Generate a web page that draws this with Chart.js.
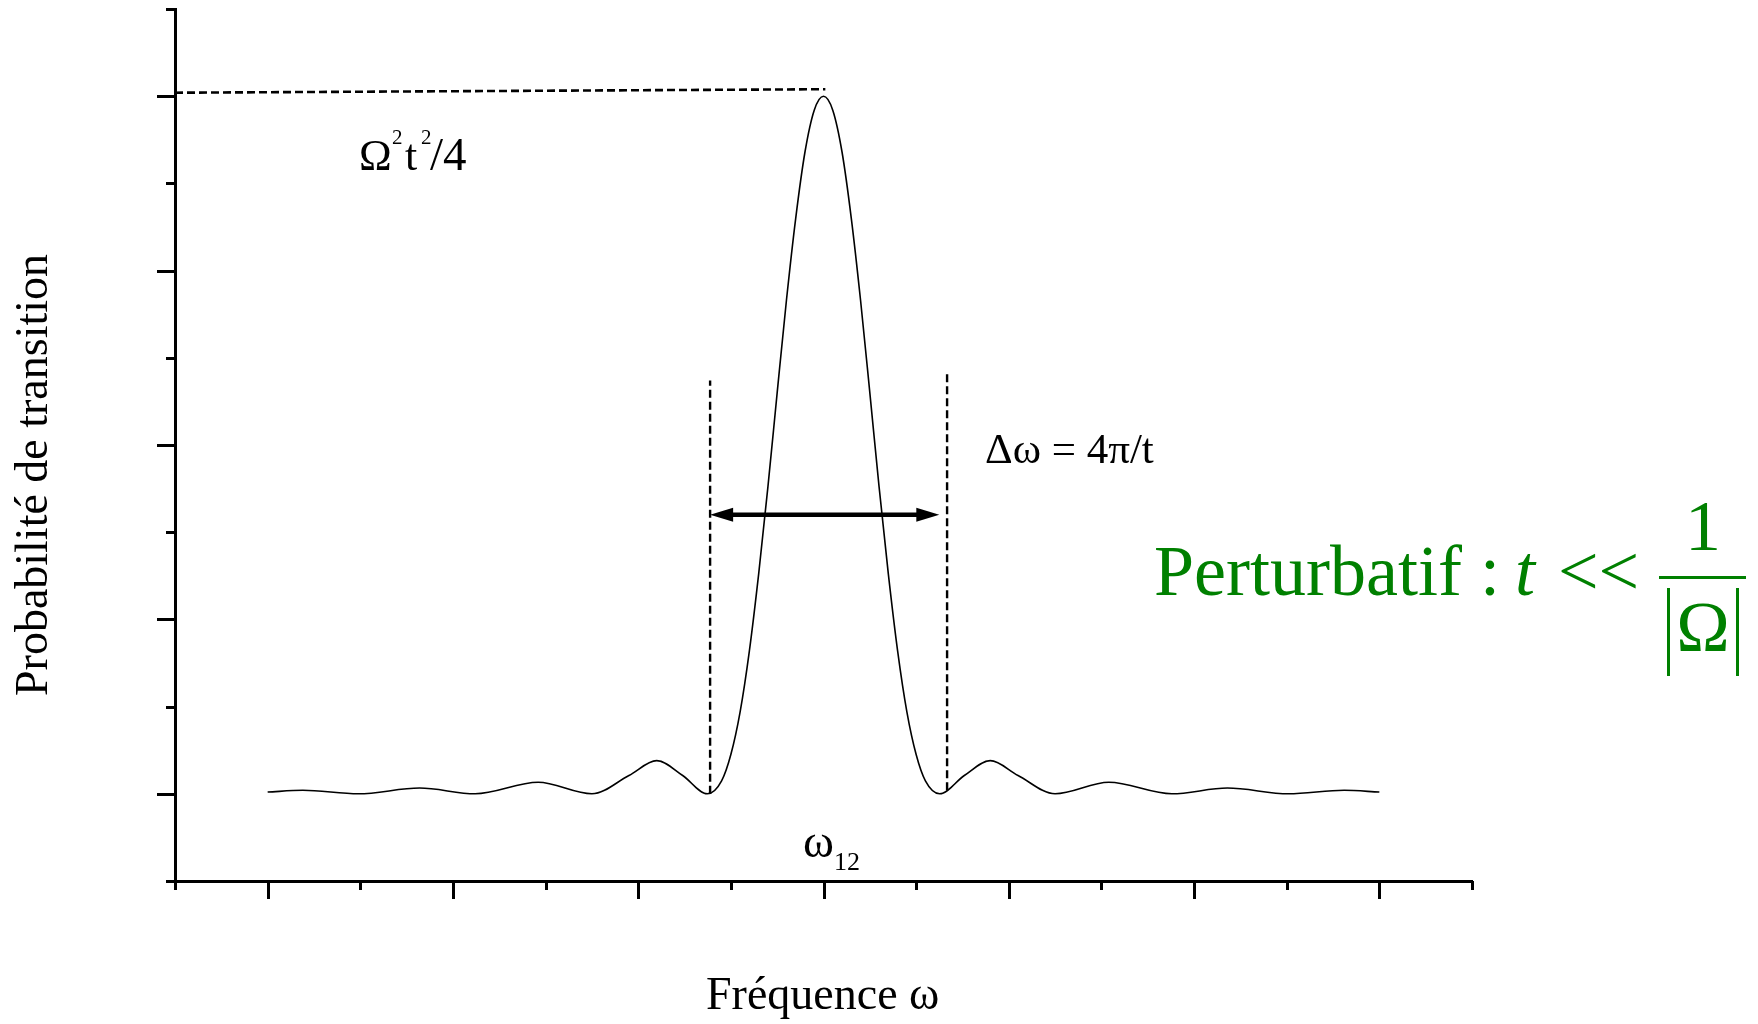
<!DOCTYPE html>
<html>
<head>
<meta charset="utf-8">
<script src="https://cdn.jsdelivr.net/npm/chart.js@4.4.1/dist/chart.umd.min.js"></script>
<style>
  html, body { margin: 0; padding: 0; background: #fff; }
  canvas { display: block; }
</style>
</head>
<body>
<canvas id="transitionChart" width="1758" height="1024"></canvas>
<script>
// Fréquence ω (écart à ω12, unités arbitraires) et probabilité de transition
const frequence = [
  -3.00, -2.81, -2.51, -2.18, -1.88, -1.54, -1.25, -1.05, -0.90, -0.76, -0.627,
  -0.55, -0.50, -0.45, -0.40, -0.35, -0.30, -0.25, -0.20, -0.15, -0.10, -0.05,
  0.00,
  0.05, 0.10, 0.15, 0.20, 0.25, 0.30, 0.35, 0.40, 0.45, 0.50, 0.55,
  0.627, 0.76, 0.90, 1.05, 1.25, 1.54, 1.88, 2.18, 2.51, 2.81, 3.00
];
const probabilite = [
  0.01, 0.02, 0.00, 0.033, 0.00, 0.066, 0.00, 0.105, 0.19, 0.105, 0.00,
  0.074, 0.225, 0.47, 0.82, 1.26, 1.76, 2.30, 2.83, 3.30, 3.68, 3.92,
  4.00,
  3.92, 3.68, 3.30, 2.83, 2.30, 1.76, 1.26, 0.82, 0.47, 0.225, 0.074,
  0.00, 0.105, 0.19, 0.105, 0.00, 0.066, 0.00, 0.033, 0.00, 0.02, 0.01
];

// niveau du maximum Ω²t²/4 (pointillés horizontaux)
const picX = [-3.5, 0.01];
const picY = [4.02, 4.04];

// largeur Δω : pointillés verticaux et flèche
const bordGaucheX = -0.612;
const bordGaucheY = [0.00, 2.37];
const bordDroitX = 0.667;
const bordDroitY = [0.02, 2.42];
const flecheX = [-0.612, 0.625];
const flecheY = 1.60;

// axes sans graduations chiffrées
const axeX = [-3.5, 3.5];
const axeY = [-0.5, 4.5];

const courbe = frequence.map((f, i) => ({ x: f, y: probabilite[i] }));

const serif = '"Liberation Serif", "Times New Roman", serif';
const vert = '#008000';

const decor = {
  id: 'decor',
  afterDraw(chart) {
    const { ctx, chartArea } = chart;
    const x = chart.scales.x, y = chart.scales.y;
    ctx.save();

    // graduations : longues aux entiers, courtes aux demis
    ctx.strokeStyle = '#000';
    ctx.lineWidth = 3;
    const estEntier = v => Math.abs(v - Math.round(v)) < 1e-6;
    x.ticks.forEach(t => {
      const px = Math.round(x.getPixelForValue(t.value)) + 0.5;
      const len = estEntier(t.value) ? 18 : 9;
      ctx.beginPath();
      ctx.moveTo(px, chartArea.bottom);
      ctx.lineTo(px, chartArea.bottom + len);
      ctx.stroke();
    });
    y.ticks.forEach(t => {
      const py = Math.round(y.getPixelForValue(t.value)) + 0.5;
      const len = estEntier(t.value) ? 18 : 9;
      ctx.beginPath();
      ctx.moveTo(chartArea.left, py);
      ctx.lineTo(chartArea.left - len, py);
      ctx.stroke();
    });

    // flèche double Δω
    const ya = y.getPixelForValue(flecheY);
    const xa = x.getPixelForValue(flecheX[0]);
    const xb = x.getPixelForValue(flecheX[1]);
    const tete = 23, demi = 7;
    ctx.fillStyle = '#000';
    ctx.lineWidth = 4.5;
    ctx.beginPath();
    ctx.moveTo(xa + tete - 2, ya);
    ctx.lineTo(xb - tete + 2, ya);
    ctx.stroke();
    ctx.beginPath();
    ctx.moveTo(xa, ya);
    ctx.lineTo(xa + tete, ya - demi);
    ctx.lineTo(xa + tete, ya + demi);
    ctx.closePath();
    ctx.fill();
    ctx.beginPath();
    ctx.moveTo(xb, ya);
    ctx.lineTo(xb - tete, ya - demi);
    ctx.lineTo(xb - tete, ya + demi);
    ctx.closePath();
    ctx.fill();

    // textes
    ctx.fillStyle = '#000';
    ctx.textAlign = 'left';
    ctx.textBaseline = 'alphabetic';

    // Ω²t²/4
    const piece = (txt, size, px, py) => {
      ctx.font = size + 'px ' + serif;
      ctx.fillText(txt, px, py);
    };
    piece('Ω', 44, 359, 170);
    piece('2', 21, 392, 144);
    piece('t', 44, 405, 170);
    piece('2', 21, 421, 144);
    piece('/4', 47, 430, 170);

    // Δω = 4π/t
    ctx.font = '43px ' + serif;
    ctx.fillText('Δω = 4π/t', 985, 463);

    // ω12
    ctx.font = '47px ' + serif;
    ctx.fillText('ω', 803, 857);
    ctx.font = '26px ' + serif;
    ctx.fillText('12', 834, 870);

    // titre de l'axe horizontal
    ctx.font = '46px ' + serif;
    ctx.fillText('Fréquence ω', 706, 1009);

    // titre de l'axe vertical
    ctx.save();
    ctx.translate(47, 475);
    ctx.rotate(-Math.PI / 2);
    ctx.textAlign = 'center';
    ctx.font = '46px ' + serif;
    ctx.fillText('Probabilité de transition', 0, 0);
    ctx.restore();

    // condition perturbative
    ctx.fillStyle = vert;
    ctx.strokeStyle = vert;
    ctx.font = '72px ' + serif;
    ctx.fillText('Perturbatif :', 1154, 595);
    ctx.font = 'italic 72px ' + serif;
    ctx.fillText('t', 1515, 595);
    ctx.font = '72px ' + serif;
    ctx.fillText('<<', 1558, 595);
    ctx.textAlign = 'center';
    ctx.fillText('1', 1703, 550);
    ctx.fillText('Ω', 1703, 651);
    ctx.lineWidth = 3;
    ctx.beginPath();
    ctx.moveTo(1659, 577.5);
    ctx.lineTo(1746, 577.5);
    ctx.stroke();
    ctx.beginPath();
    ctx.moveTo(1668.5, 588);
    ctx.lineTo(1668.5, 676);
    ctx.moveTo(1737.5, 588);
    ctx.lineTo(1737.5, 676);
    ctx.stroke();

    ctx.restore();
  }
};

const tirets = [8, 4];

new Chart(document.getElementById('transitionChart'), {
  type: 'line',
  data: {
    datasets: [
      {
        data: courbe,
        borderColor: '#000',
        borderWidth: 1.6,
        pointRadius: 0,
        cubicInterpolationMode: 'monotone',
        fill: false
      },
      {
        data: picX.map((v, i) => ({ x: v, y: picY[i] })),
        borderColor: '#000',
        borderWidth: 2.6,
        borderDash: tirets,
        pointRadius: 0
      },
      {
        data: bordGaucheY.map(v => ({ x: bordGaucheX, y: v })),
        borderColor: '#000',
        borderWidth: 2.4,
        borderDash: tirets,
        pointRadius: 0
      },
      {
        data: bordDroitY.map(v => ({ x: bordDroitX, y: v })),
        borderColor: '#000',
        borderWidth: 2.4,
        borderDash: tirets,
        pointRadius: 0
      }
    ]
  },
  options: {
    responsive: false,
    animation: false,
    devicePixelRatio: 1,
    layout: { padding: { left: 175, top: 9, right: 286, bottom: 143 } },
    plugins: {
      legend: { display: false },
      tooltip: { enabled: false }
    },
    scales: {
      x: {
        type: 'linear',
        min: axeX[0],
        max: axeX[1],
        ticks: { stepSize: 0.5, display: false },
        grid: { display: false, drawTicks: false },
        border: { display: true, color: '#000', width: 3 },
        afterFit: s => { s.height = 0; }
      },
      y: {
        type: 'linear',
        min: axeY[0],
        max: axeY[1],
        ticks: { stepSize: 0.5, display: false },
        grid: { display: false, drawTicks: false },
        border: { display: true, color: '#000', width: 3 },
        afterFit: s => { s.width = 0; }
      }
    }
  },
  plugins: [decor]
});
</script>
</body>
</html>
